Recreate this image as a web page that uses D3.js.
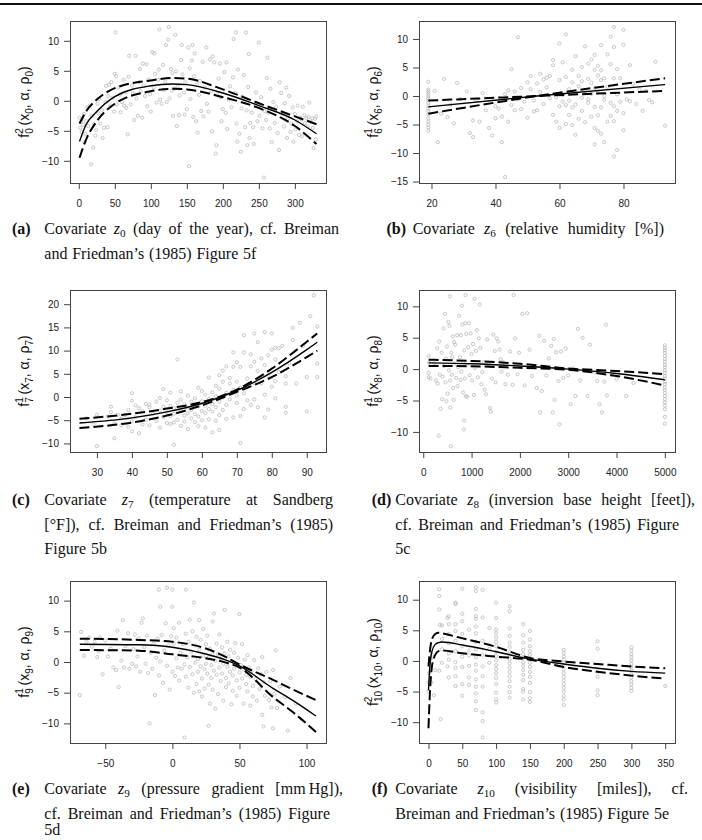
<!DOCTYPE html>
<html>
<head>
<meta charset="utf-8">
<script src="https://cdn.jsdelivr.net/npm/d3@7"></script>
<style>
  html, body { margin: 0; padding: 0; background: #fff; }
  svg { display: block; }
</style>
</head>
<body>
<script>
// ---------- data ----------
// scatter points [x, partial residual]
const ptsA = [[1,-2.8],[2,-4.5],[3,-3.5],[4,-5.2],[5,-3],[6,-4],[7,-2.2],[8,-6.9],[9,-5.5],[10,-3.4],[12,-1.1],[13,-4.2],[15,-0.8],[17,-10.6],[18,-2.5],[20,-7.8],[21,-3.9],[23,-5.8],[24,-4.9],[26,-0.5],[27,-2.1],[28,0.3],[30,-3.8],[32,-1.5],[33,-6.2],
  [35,-4.5],[37,-0.2],[38,2.5],[40,-4.4],[41,0.8],[42,2.7],[44,-0.9],[45,3.1],[47,0.5],[49,-1.8],[50,4.5],[51,11.4],[52,4.1],[53,-0.6],[55,2.2],[57,1.0],[58,-1.9],[60,-0.2],[62,3.5],[63,-0.8],[65,1.4],[66,-1.2],[68,-5.6],[69,4.0],[70,7.5],[72,-0.6],[74,2.5],[75,1.3],[77,-3.2],[79,7.5],[80,0.4],
  [82,-2.5],[84,3.1],[85,5.3],[86,1.6],[88,-2.8],[89,6.2],[90,2.5],[92,0.8],[94,6.1],[95,-0.9],[97,3.5],[99,1.1],[100,-1.8],[102,8.1],[104,2.2],[105,7.9],[106,4.5],[108,-0.3],[110,3.5],[111,5.2],[112,11.9],[113,0.2],[115,-0.5],[117,6.0],[118,1.8],[120,3.2],[121,9.3],[122,-0.2],[124,10.2],[125,12.3],[126,0.4],[128,5.3],[129,1.7],[130,4.6],[131,-2.5],[132,2.0],
  [134,11.0],[135,4.9],[136,-4.2],[137,2.3],[139,-2.4],[140,0.9],[142,6.8],[143,9.3],[144,4.4],[146,1.4],[147,-2.3],[148,3.1],[150,-1.4],[152,8.9],[153,-10.9],[154,5.4],[155,0.3],[157,6.7],[158,9.3],[159,-2.7],[160,4.1],[161,7.9],[163,-3.4],[164,2.7],[165,-5.3],[167,1.0],[168,3.3],[170,-1.7],[172,6.5],[173,-2.6],[175,2.2],[177,8.9],[178,-0.5],[180,-1.8],
  [182,6.9],[184,1.6],[185,-5.1],[186,7.4],[188,6.4],[190,-8.8],[191,-7.4],[192,1.1],[194,3.7],[196,6.2],[197,0.6],[198,-3.4],[200,-1.4],[202,4.8],[204,-2.0],[205,6.4],[206,-4.7],[208,0.2],[210,2.4],[212,-1.1],[214,3.9],[215,10.3],[217,1.3],[218,11.4],[219,-3.8],[220,-6.8],[221,5.2],[223,-5.5],[225,-8.5],[226,-1.3],[227,0.7],[229,4.3],
  [231,-4.4],[232,11.4],[233,-1.6],[234,-7.4],[235,2.3],[236,7.8],[237,-6.2],[238,-3.7],[240,-2.0],[242,-4.4],[243,-7.2],[245,-0.7],[246,1.4],[248,-3.4],[250,9.7],[251,-2.5],[253,0.6],[255,-4.6],[257,-12.8],[258,-1.7],[260,-3.2],[261,3.8],[262,7.2],[263,-2.0],[265,-4.6],[266,2.0],[268,-6.9],[270,-0.2],[272,-3.7],[274,-1.0],[276,-5.4],[278,-8.2],[279,3.1],
  [281,1.3],[283,-2.2],[285,-4.3],[286,-0.4],[288,2.2],[289,-6.2],[290,-3.0],[292,0.8],[294,-5.2],[295,-3.8],[297,-1.1],[298,-6.8],[300,-2.2],[301,-4.8],[303,-3.4],[304,-0.8],[306,-5.7],[307,-2.8],[309,-3.1],[310,-5.9],[311,-1.0],[313,-2.4],[314,-3.7],[316,-2.9],[318,-4.3],[319,-2.7],[320,-0.3],[322,-3.5],[324,-2.9],[325,-4.5],[326,-7.9],[328,-3.0],[329,-6.4],[330,-2.6]];

const ptsB = [[19,2.5],[19,1.1],[19,0.8],[19,0.4],[19,0],[19,-0.4],[19,-0.8],[19,-1.2],[19,-1.7],[19,-2.2],[19,-2.6],[19,-3.2],[19,-3.9],[19,-4.5],[19,-5],[19,-5.5],[19,-6.1],
  [21,0.9],[22,-8.1],[23,-3.1],[24,3.0],[25,-3.7],[26,-1.5],[27,-4.8],[28,2.3],[29,-0.5],[31,0.8],[32,-6.5],[33,-4.3],[33,-7.2],[34,-0.7],[35,-4.5],[36,0.5],[37,-2.5],[38,-5.6],[39,-6.9],[40,-3.9],[40,-1.8],[41,-2.2],[42,-8.1],[42,-3.6],[43,-14.2],[43,0.3],[44,-4.5],[44,1.0],[45,4.7],[45,-1.6],
  [46,0.8],[46,-2.5],[47,10.3],[47,-0.6],[48,-2.3],[48,1.4],[49,-1.0],[50,2.4],[50,-3.8],[51,1.2],[51,3.5],[52,-0.8],[52,-2.7],[53,2.2],[53,-2.5],[54,3.9],[54,0.7],[55,2.9],[55,-1.4],[56,3.2],[56,1.5],[57,-0.4],[57,3.5],[58,5.4],[58,-3.3],[58,6.3],[59,-0.2],[59,-4.5],[60,9.2],[60,-1.8],[60,2.8],[60,-5.6],
  [61,5.9],[61,-1.0],[61,0.2],[62,10.8],[62,3.3],[62,-1.6],[62,-4.9],[63,1.2],[63,-3.3],[63,-0.8],[64,2.4],[64,-5.1],[64,4.6],[64,-2.0],[65,0.6],[65,7.0],[65,-6.8],[65,-1.5],[66,3.5],[66,1.7],[66,-4.0],[67,-0.3],[67,5.1],[67,2.6],[67,-2.6],[68,8.7],[68,0.9],[68,-4.6],[69,-1.2],[69,3.0],[69,5.7],[69,-0.6],[70,2.3],[70,-3.6],[70,6.4],[70,0.4],[71,-5.6],[71,7.2],[71,4.6],[71,-8.5],[71,-1.9],[71,1.3],[72,-6.1],[72,3.6],[72,0.6],[72,-3.4],[72,5.3],[73,-2.0],[73,8.9],[73,2.8],[73,-6.6],[73,4.5],[74,0.0],[74,-8.1],[74,-0.7],[74,3.1],
  [75,7.3],[75,-4.5],[75,1.6],[76,10.4],[76,5.6],[76,-1.2],[76,-3.5],[77,12.1],[77,-10.6],[77,8.6],[77,3.1],[77,-4.4],[77,-1.8],[78,-9.5],[78,4.7],[78,0.3],[78,-2.6],[79,3.1],[79,-1.0],[80,11.6],[80,9.0],[80,-3.0],[80,-6.0],[81,-0.6],[82,5.4],[82,-0.9],[83,2.1],[84,-1.4],[85,1.1],[86,-2.6],[87,0.9],[88,-0.7],[89,-1.1],[90,6.0],[93,-5.2]];

const ptsC = [[27,-4.6],[29,-5.9],[30,-10.6],[30,-3.8],[33,-4.2],[34,-2.1],[34,-3.3],[35,-8.9],[35,-5.7],[36,-3.8],[37,-6.1],[37,-4.6],[38,-3.9],[39,-6.4],[39,-2.8],[40,-0.8],[40,0.8],[40,-7.4],[40,-5.2],[41,-1.8],[41,-4.4],[42,-7.8],[42,-2.4],[43,-5.9],[43,-3.1],[44,-1.5],[44,-4.9],[45,-6.1],[45,-2.2],[45,-1.6],
  [46,-3.6],[47,-5.2],[47,-1.0],[48,-2.9],[48,-6.6],[48,-0.2],[49,-4.3],[49,1.7],[49,-2.1],[50,-5.6],[50,-3.3],[50,-0.7],[51,-1.9],[51,-5.8],[51,-4.1],[51,0.9],[52,-10.3],[52,-3.6],[52,-2.4],[52,-5.5],[53,8.1],[53,-1.2],[53,-4.9],[53,-3.0],[54,1.2],[54,-2.7],[54,-6.2],[54,-0.6],[55,-4.0],[55,-1.6],[55,-5.3],[56,-2.3],[56,-3.5],[56,0.3],[56,-6.9],[57,-1.0],[57,-4.6],[57,-2.8],[58,-5.4],[58,-0.3],[58,-3.7],[59,2.0],[59,-2.0],[59,-4.2],[59,-6.3],[60,-0.9],[60,-3.0],[60,1.3],[60,-5.0],
  [61,-1.9],[61,0.5],[61,-6.6],[61,-3.5],[62,4.2],[62,-2.6],[62,-0.4],[62,-4.8],[63,1.0],[63,-7.6],[63,-3.1],[63,-1.5],[64,2.4],[64,-2.2],[64,0.2],[64,-5.1],[65,4.7],[65,-1.0],[65,-3.9],[65,1.8],[65,-7.1],[66,3.3],[66,5.7],[66,-0.1],[66,-2.8],[67,0.9],[67,6.6],[67,-4.7],[67,-1.7],[68,2.9],[68,-0.5],[68,4.1],[69,9.6],[69,-4.4],[69,1.5],[69,6.5],[70,7.5],[70,-1.3],[70,3.3],[70,0.3],[71,-9.9],[71,6.5],[71,-4.1],[71,2.0],[72,13.3],[72,9.6],[72,0.8],[72,-2.6],
  [73,4.0],[73,-0.7],[73,2.2],[74,9.2],[74,6.6],[74,-1.7],[75,13.7],[75,7.6],[75,3.0],[75,-0.5],[76,5.6],[76,11.8],[76,-2.2],[77,2.9],[77,8.3],[78,14.0],[78,0.5],[78,-4.4],[78,6.9],[79,-2.7],[79,4.6],[79,9.0],[80,13.7],[80,2.2],[80,10.2],[81,8.1],[81,-0.3],[81,10.6],[81,3.4],[82,5.4],[82,10.5],[83,11.0],[84,4.5],[84,-2.1],[84,-3.4],[84,2.9],[85,7.3],[86,14.9],[86,12.3],[87,2.9],[88,16.0],[89,11.0],[90,4.3],[90,-3.1],[91,17.4],[92,21.9],[93,15.2],[93,7.2],[93,4.3]];

const ptsD = [[111,2.1],[111,-1.3],[111,-0.6],[120,1.0],[150,-1.5],
  [230,0.9],[260,-1.8],[290,3.3],[300,-2.3],[320,-10.6],[330,4.4],[345,-0.9],[360,-6.3],[380,2.6],[390,-4.8],[400,-1.2],[420,6.5],[430,0.5],[450,8.8],[460,-2.1],[470,1.7],[480,-5.1],[490,3.6],[500,-3.9],[520,7.5],[530,-0.2],[540,6.9],[550,11.6],[555,-1.8],[560,-6.1],[570,-12.3],[580,2.6],[590,-0.9],[600,1.9],[610,5.2],[620,-3.0],[630,-4.9],[640,4.3],[650,0.9],[660,3.9],[680,-1.4],[700,5.4],[710,-2.7],[720,0.3],[740,8.5],
  [760,1.9],[770,-1.7],[780,5.4],[790,-0.4],[800,10.1],[810,7.1],[820,-3.7],[830,1.2],[840,-9.6],[845,-8.2],[850,3.0],[860,-1.5],[870,7.3],[875,11.8],[880,-4.3],[890,5.6],[900,0.7],[910,-4.4],[930,3.5],[950,7.3],[960,-1.0],[980,5.7],[1000,2.4],[1010,-1.8],[1030,4.0],[1050,-4.1],[1060,11.2],[1070,0.2],[1090,2.9],[1110,6.2],[1130,-1.3],[1150,4.9],[1170,10.3],[1180,3.4],[1200,-2.4],[1220,-0.5],[1250,1.1],[1270,-3.3],
  [1300,-4.0],[1320,4.7],[1350,0.8],[1380,-6.2],[1400,-6.8],[1420,-1.5],[1450,5.5],[1480,2.9],[1500,-2.1],[1520,4.9],[1550,4.4],[1580,3.1],[1600,1.6],[1620,-0.4],[1650,1.1],[1700,-2.4],[1750,-0.9],[1800,2.8],[1850,-2.5],[1870,11.8],[1900,4.9],[1950,-0.8],[1980,2.6],
  [2050,8.8],[2100,-2.6],[2150,8.9],[2200,3.1],[2250,-1.1],[2300,0.4],[2350,-3.0],[2400,5.3],[2420,-6.9],[2450,-3.5],[2500,4.5],[2550,-1.0],[2600,1.7],[2650,3.7],[2680,-6.9],[2700,4.8],[2720,-4.9],[2750,2.7],[2800,-1.9],[2820,-8.8],[2850,2.8],[2900,-1.4],[2950,3.3],[3000,-1.0],[3050,-5.6],[3100,0.1],[3150,-4.3],[3200,6.4],[3250,-1.8],[3300,5.0],[3400,-4.3],[3450,3.9],[3550,-0.5],[3600,-1.9],[3650,-5.6],[3700,-6.9],[3750,-2.0],[3780,7.1],[3800,-4.2],[3900,-1.0],[4000,-1.6],[4200,-4.3],[4350,-2.2],
  [5000,3.8],[5000,3.4],[5000,3.0],[5000,2.6],[5000,2.1],[5000,1.6],[5000,1.2],[5000,0.7],[5000,0.3],[5000,-0.2],[5000,-0.6],[5000,-1.1],[5000,-1.5],[5000,-2.0],[5000,-2.4],[5000,-2.9],[5000,-3.3],[5000,-3.8],[5000,-4.3],[5000,-4.8],[5000,-5.3],[5000,-5.8],[5000,-6.4],[5000,-7.6],[5000,-8.7]];

const ptsE = [[-69,-5.4],[-68,4.9],[-66,1.0],[-64,3.3],[-62,4.0],[-60,2.5],[-58,3.3],[-56,0.8],[-55,1.8],[-54,4.0],[-52,-2.0],[-50,3.5],[-48,0.9],[-46,2.2],[-44,-0.9],[-42,-1.3],[-41,5.1],[-40,-4.1],[-38,0.2],[-37,6.8],[-36,-0.9],[-35,2.6],[-33,4.7],[-32,-1.1],[-30,-0.3],[-29,2.1],[-28,4.5],[-27,-0.7],[-26,0.9],[-25,3.8],[-24,-1.6],[-23,6.4],[-22,7.1],[-21,2.4],[-20,-0.3],
  [-19,4.3],[-18,-1.8],[-17,-10.0],[-16,1.5],[-15,-1.1],[-14,3.0],[-13,-5.4],[-12,0.7],[-11,3.8],[-10,11.8],[-10,-2.2],[-9,9.0],[-9,0.1],[-8,4.4],[-7,-3.4],[-6,1.9],[-5,6.3],[-4,12.1],[-4,-0.6],[-3,2.7],[-2,-4.5],[-1,4.2],[0,11.8],[0,9.0],[0,-1.6],[1,3.0],[1,5.5],[2,-2.3],[3,0.6],[3,4.0],[4,-0.9],[5,6.4],[5,-3.0],[6,1.5],[7,-1.1],[8,2.9],[9,-12.3],[9,-0.4],[10,11.8],[10,4.6],[10,-2.4],
  [11,0.8],[12,-4.2],[12,3.3],[13,6.9],[13,-0.8],[14,1.7],[15,-2.0],[15,5.0],[16,9.7],[16,-5.0],[17,-0.1],[17,2.7],[18,-3.6],[18,4.1],[19,0.5],[19,-1.6],[20,6.8],[20,-4.8],[20,2.0],[21,-0.7],[21,3.6],[22,-2.7],[22,-5.6],[23,1.0],[23,5.4],[24,-1.2],[24,-4.3],[25,2.9],[25,-0.3],[26,4.3],[26,-1.9],[27,-10.4],[27,0.8],[27,-3.7],[28,-6.8],[28,2.2],[29,-0.5],[29,-2.6],[30,6.6],[30,1.2],[30,-4.5],[31,7.9],[31,-1.4],[32,0.2],[32,-7.6],[33,3.0],[33,-2.1],[34,-5.2],[34,1.3],[35,-0.9],[35,4.5],[36,-3.1],[36,0.6],[37,-1.9],[37,2.4],[38,-6.3],[38,-0.3],[39,8.5],[39,1.4],[40,-2.6],[40,-4.1],
  [41,3.3],[41,-0.8],[42,0.9],[42,-3.5],[43,-1.6],[43,2.0],[44,-6.9],[44,0.2],[45,-2.2],[45,-4.7],[46,1.5],[46,-1.1],[47,-0.4],[47,3.1],[48,-3.0],[48,-5.5],[49,0.7],[50,7.8],[50,-1.7],[50,-4.2],[51,-0.5],[52,-2.7],[52,2.9],[53,-6.8],[53,-1.2],[54,0.4],[55,-3.6],[55,-2.1],[56,-4.8],[56,1.1],[57,-0.9],[58,-7.1],[58,-2.4],[59,-1.5],[60,-3.9],[60,-5.6],[61,0.3],[62,-2.8],[63,-6.3],[64,-1.0],[65,-4.4],[66,-2.0],[67,-8.6],[67,0.8],[68,-10.5],[68,-3.3],[69,-5.5],[70,-1.6],[72,-6.2],[73,-3.1],[74,-7.4],[75,-10.8],[75,-1.3],[76,-5.2],[77,1.9],[78,-7.5],[80,-4.0],[84,-5.7],[86,-11.2],[88,-2.6],[92,-6.8]];

const ptsF = [[0,-5.0],[0,-3.5],[1,-2.0],[2,-0.8],[3,0.4],[4,-3.5],[5,1.0],[8,-5.6],[10,-1.5],
  [16,11.7],[16,10.6],[16,8.4],[17,5.9],[16,-1.6],[18,-9.5],[20,5.8],[20,1.9],[20,-0.3],[20,3.6],
  [28,7.0],[28,-0.9],[30,7.3],[30,6.0],[30,4.4],[30,2.9],[30,1.2],[30,0.2],[30,-2.7],
  [40,9.5],[40,9.3],[40,6.0],[40,4.9],[40,3.3],[40,1.6],[40,-0.2],[40,-1.1],[40,-2.5],[40,-4.1],
  [50,11.8],[50,7.7],[50,6.5],[50,4.4],[50,2.4],[50,0.7],[50,-1.0],[50,-3.8],[50,-5.7],
  [60,5.1],[60,1.7],[60,0.9],[60,-0.8],[60,-2.7],[60,-3.9],
  [70,12.0],[70,11.4],[70,8.5],[70,7.3],[70,6.9],[70,5.6],[70,4.5],[70,3.1],[70,1.9],[70,0.6],[70,-0.6],[70,-1.6],[70,-3.0],[70,-4.2],[70,-5.3],[70,-6.6],[70,-8.0],
  [80,11.6],[80,7.1],[80,3.3],[80,1.0],[80,-0.9],[80,-2.5],[80,-4.2],[80,-8.4],[80,-9.8],[80,-12.5],
  [90,5.4],[90,2.0],[90,-0.3],
  [100,9.5],[100,7.0],[100,5.1],[100,4.5],[100,3.8],[100,3.1],[100,2.4],[100,1.5],[100,0.8],[100,0.1],[100,-0.7],[100,-1.3],[100,-2.0],[100,-2.8],[100,-3.8],[100,-5.2],[100,-6.3],[100,-6.8],
  [120,8.9],[120,8.1],[120,5.3],[120,4.1],[120,3.0],[120,2.3],[120,1.5],[120,0.9],[120,0.3],[120,-0.4],[120,-1.1],[120,-1.8],[120,-2.5],[120,-3.3],[120,-4.2],[120,-5.1],[120,-6.0],
  [140,6.0],[140,4.2],[140,3.0],[140,1.8],[140,1.1],[140,0.5],[140,-0.2],[140,-0.8],[140,-1.5],[140,-2.3],[140,-3.1],[140,-4.6],[140,-5.0],[140,-6.3],
  [150,4.9],[150,3.5],[150,2.4],[150,1.6],[150,1.0],[150,0.4],[150,-0.3],[150,-1.0],[150,-1.8],[150,-2.6],[150,-3.6],[150,-5.1],[150,-6.1],[150,-6.7],
  [200,1.8],[200,1.3],[200,0.7],[200,0.2],[200,-0.3],[200,-0.9],[200,-1.4],[200,-2.0],[200,-2.6],[200,-3.2],[200,-3.8],[200,-4.4],[200,-5.0],[200,-5.7],[200,-6.3],[200,-7.2],
  [250,3.2],[250,2.0],[250,-1.8],[250,-2.6],[250,-4.8],[250,-5.6],
  [300,2.2],[300,1.7],[300,1.1],[300,0.6],[300,0.1],[300,-0.5],[300,-1.0],[300,-1.6],[300,-2.2],[300,-2.7],[300,-3.3],[300,-3.8],[300,-4.4],[300,-4.9],
  [350,-4.1]];

// fitted curves: [x, lower band, estimate, upper band]
const fitA = [[1,-9.5,-6.8,-3.8],[10,-6.5,-4.0,-1.8],[25,-3.4,-1.8,0.2],[50,-0.5,0.7,2.1],[100,1.6,2.5,3.4],[130,2.0,2.8,3.8],[150,1.9,2.7,3.7],[200,0.6,1.3,1.9],[250,-1.2,-0.8,-0.4],[300,-4.2,-3.2,-2.6],[330,-7.2,-5.5,-3.9]];
const fitB = [[19,-3.1,-1.9,-0.8],[53,0,0,0],[93,3.1,2.0,0.9]];
const fitC = [[25,-6.7,-5.6,-4.7],[40,-5.5,-4.5,-3.6],[50,-4.0,-3.2,-2.5],[60,-1.8,-1.4,-1.1],[70,1.1,1.4,1.6],[80,4.3,5.3,6.1],[90,8.6,10.2,11.9],[93,10.0,11.8,13.7]];
const fitD = [[111,0.5,1.0,1.5],[1000,0.45,0.85,1.3],[2000,0.2,0.5,0.85],[3000,-0.1,0,0.1],[4000,-1.1,-0.7,-0.3],[5000,-2.6,-1.7,-0.8]];
const fitE = [[-69,1.95,2.9,3.8],[-25,1.85,2.8,3.6],[0,1.25,2.4,3.3],[25,0.6,1.3,2.2],[40,-0.1,0.3,0.8],[50,-0.9,-0.65,-0.4],[75,-5.7,-4.3,-2.9],[90,-8.2,-6.3,-4.5],[107,-11.4,-8.8,-6.2]];
const fitF = [[0,-11.0,-4.8,-0.9],[2,-5.5,-1.0,1.5],[5,-1.0,1.5,3.5],[10,1.0,2.7,4.4],[15,1.6,3.0,4.6],[20,1.7,3.1,4.5],[50,1.25,2.6,3.7],[100,0.7,1.5,2.3],[150,0.2,0.3,0.5],[200,-1.0,-0.5,-0.1],[250,-1.75,-1.2,-0.5],[300,-2.4,-1.7,-0.9],[350,-2.9,-2.0,-1.2]];

// tick values
const xTicksA = [0,50,100,150,200,250,300], yTicksA = [-10,-5,0,5,10];
const xTicksB = [20,40,60,80],             yTicksB = [-15,-10,-5,0,5,10];
const xTicksC = [30,40,50,60,70,80,90],    yTicksC = [-10,-5,0,5,10,15,20];
const xTicksD = [0,1000,2000,3000,4000,5000], yTicksD = [-10,-5,0,5,10];
const xTicksE = [-50,0,50,100],            yTicksE = [-10,-5,0,5,10];
const xTicksF = [0,50,100,150,200,250,300,350], yTicksF = [-10,-5,0,5,10];

// axis label indices [superscript, subscript]
const labA = ["2","0"], labB = ["1","6"], labC = ["1","7"], labD = ["1","8"], labE = ["1","9"], labF = ["2","10"];

// captions
const capA = ["Covariate z_0 (day of the year), cf. Breiman", "and Friedman’s (1985) Figure 5f"];
const capB = ["Covariate z_6 (relative humidity [%])"];
const capC = ["Covariate z_7 (temperature at Sandberg", "[°F]), cf. Breiman and Friedman’s (1985)", "Figure 5b"];
const capD = ["Covariate z_8 (inversion base height [feet]),", "cf. Breiman and Friedman’s (1985) Figure", "5c"];
const capE = ["Covariate z_9 (pressure gradient [mm\u2009Hg]),", "cf. Breiman and Friedman’s (1985) Figure", "5d"];
const capF = ["Covariate z_10 (visibility [miles]), cf.", "Breiman and Friedman’s (1985) Figure 5e"];

// ---------- layout ----------
const W = 702, H = 840;
const sans = "'Liberation Sans', Arial, Helvetica, sans-serif";
const serif = "'Liberation Serif', 'Times New Roman', serif";
const capFs = 16;
const fmt = d => d < 0 ? "\u2212" + (-d) : String(d);

const svg = d3.select("body").append("svg")
  .attr("width", W)
  .attr("height", H);

// top rule
svg.append("rect")
  .attr("x", 0).attr("y", 3)
  .attr("width", W).attr("height", 2)
  .attr("fill", "#111");

const panels = [
  {pts: ptsA, fit: fitA, xd: [-12.2, 343.2], yd: [-13.7, 13.3], xt: xTicksA, yt: yTicksA, lab: labA, box: [70, 21, 326, 183]},
  {pts: ptsB, fit: fitB, xd: [16.1, 96.1],   yd: [-15.25, 13.15], xt: xTicksB, yt: yTicksB, lab: labB, box: [419, 21, 675, 183]},
  {pts: ptsC, fit: fitC, xd: [22.3, 95.5],   yd: [-11.85, 23.06], xt: xTicksC, yt: yTicksC, lab: labC, box: [70, 290, 326, 452]},
  {pts: ptsD, fit: fitD, xd: [-88, 5210],    yd: [-13.2, 12.6], xt: xTicksD, yt: yTicksD, lab: labD, box: [419, 290, 675, 452]},
  {pts: ptsE, fit: fitE, xd: [-76.3, 114.5], yd: [-13.2, 13.2], xt: xTicksE, yt: yTicksE, lab: labE, box: [70, 581, 326, 743]},
  {pts: ptsF, fit: fitF, xd: [-14, 364.5],   yd: [-13.4, 13.05], xt: xTicksF, yt: yTicksF, lab: labF, box: [419, 581, 675, 743]}
];

panels.forEach(p => {
  const [x0, y0, x1, y1] = p.box;
  const x = d3.scaleLinear().domain(p.xd).range([x0, x1]);
  const y = d3.scaleLinear().domain(p.yd).range([y1, y0]);
  const g = svg.append("g");

  // residual points
  g.append("g")
    .selectAll("circle")
    .data(p.pts)
    .join("circle")
    .attr("cx", d => x(d[0]))
    .attr("cy", d => y(d[1]))
    .attr("r", 1.6)
    .attr("fill", "none")
    .attr("stroke", "#b0b0b0")
    .attr("stroke-width", 0.7);

  // bands (dashed) and estimate (solid)
  const line = k => d3.line()
    .x(d => x(d[0]))
    .y(d => y(d[k]))
    .curve(d3.curveMonotoneX);
  [[1, true], [3, true], [2, false]].forEach(([k, dashed]) => {
    g.append("path")
      .datum(p.fit)
      .attr("d", line(k))
      .attr("fill", "none")
      .attr("stroke", "#000")
      .attr("stroke-width", dashed ? 2 : 1.4)
      .attr("stroke-dasharray", dashed ? "10,4" : null);
  });

  // frame
  g.append("rect")
    .attr("x", x0 + 0.5).attr("y", y0 + 0.5)
    .attr("width", x1 - x0).attr("height", y1 - y0)
    .attr("fill", "none")
    .attr("stroke", "#444")
    .attr("stroke-width", 1);

  const styleAxis = a => {
    a.select(".domain").remove();
    a.attr("font-family", sans).attr("font-size", 10).attr("color", "#444");
    a.selectAll("text").attr("fill", "#222");
  };

  g.append("g")
    .attr("transform", `translate(0,${y1})`)
    .call(d3.axisBottom(x).tickValues(p.xt).tickFormat(fmt).tickSize(6).tickPadding(11))
    .call(styleAxis);

  g.append("g")
    .attr("transform", `translate(${x0},0)`)
    .call(d3.axisLeft(y).tickValues(p.yt).tickFormat(fmt).tickSize(6).tickPadding(5))
    .call(styleAxis);

  // y label  f^a_b (x_b, α, ρ_b)
  const [sup, sub] = p.lab;
  const lab = g.append("text")
    .attr("transform", `translate(${x0 - 41},${(y0 + y1) / 2}) rotate(-90)`)
    .attr("text-anchor", "middle")
    .attr("font-family", sans)
    .attr("font-size", 14)
    .attr("fill", "#111");
  lab.append("tspan").text("f");
  lab.append("tspan").attr("font-size", 10).attr("dy", -6).text(sup);
  lab.append("tspan").attr("font-size", 10).attr("dx", -5.56).attr("dy", 9.5).text(sub);
  lab.append("tspan").attr("dy", -3.5).text("\u2009(x");
  lab.append("tspan").attr("font-size", 10).attr("dy", 3.5).text(sub);
  lab.append("tspan").attr("dy", -3.5).text(", α, ρ");
  lab.append("tspan").attr("font-size", 10).attr("dy", 3.5).text(sub);
  lab.append("tspan").attr("dy", -3.5).text(")");
});

// ---------- captions ----------
function word(x, y, tok) {
  const t = svg.append("text")
    .attr("x", x).attr("y", y)
    .attr("font-family", serif)
    .attr("font-size", capFs)
    .attr("fill", "#111");
  const m = tok.match(/^([a-z])_(\d+)$/);
  if (m) {
    t.append("tspan").attr("font-style", "italic").text(m[1]);
    t.append("tspan").attr("font-size", capFs * 0.7).attr("dy", 3).text(m[2]);
  } else {
    t.text(tok);
  }
  return t;
}

function caption(label, lx, tx, lines, ys, rights) {
  svg.append("text")
    .attr("x", lx).attr("y", ys[0])
    .attr("font-family", serif)
    .attr("font-size", capFs)
    .attr("font-weight", "bold")
    .attr("fill", "#111")
    .text(label);
  lines.forEach((s, i) => {
    const words = s.split(" ");
    const nodes = words.map(w => word(0, ys[i], w));
    const widths = nodes.map(n => n.node().getComputedTextLength());
    const total = d3.sum(widths);
    let gap = capFs * 0.3;
    if (rights[i] != null && words.length > 1) gap = (rights[i] - tx - total) / (words.length - 1);
    let cx = tx;
    nodes.forEach((n, j) => {
      n.attr("x", cx);
      cx += widths[j] + gap;
    });
  });
}

caption("(a)", 12, 44.3, capA, [234, 258.5], [339, null]);
caption("(b)", 386.5, 412.7, capB, [234], [664]);
caption("(c)", 12, 44.3, capC, [505, 529.5, 554], [333, 333, null]);
caption("(d)", 371.7, 395.3, capD, [505, 529.5, 554], [695, 679, null]);
caption("(e)", 12, 44.3, capE, [794, 818.5, 835], [343, 330, null]);
caption("(f)", 371.7, 395.3, capF, [794, 818.5], [688, null]);
</script>
</body>
</html>
